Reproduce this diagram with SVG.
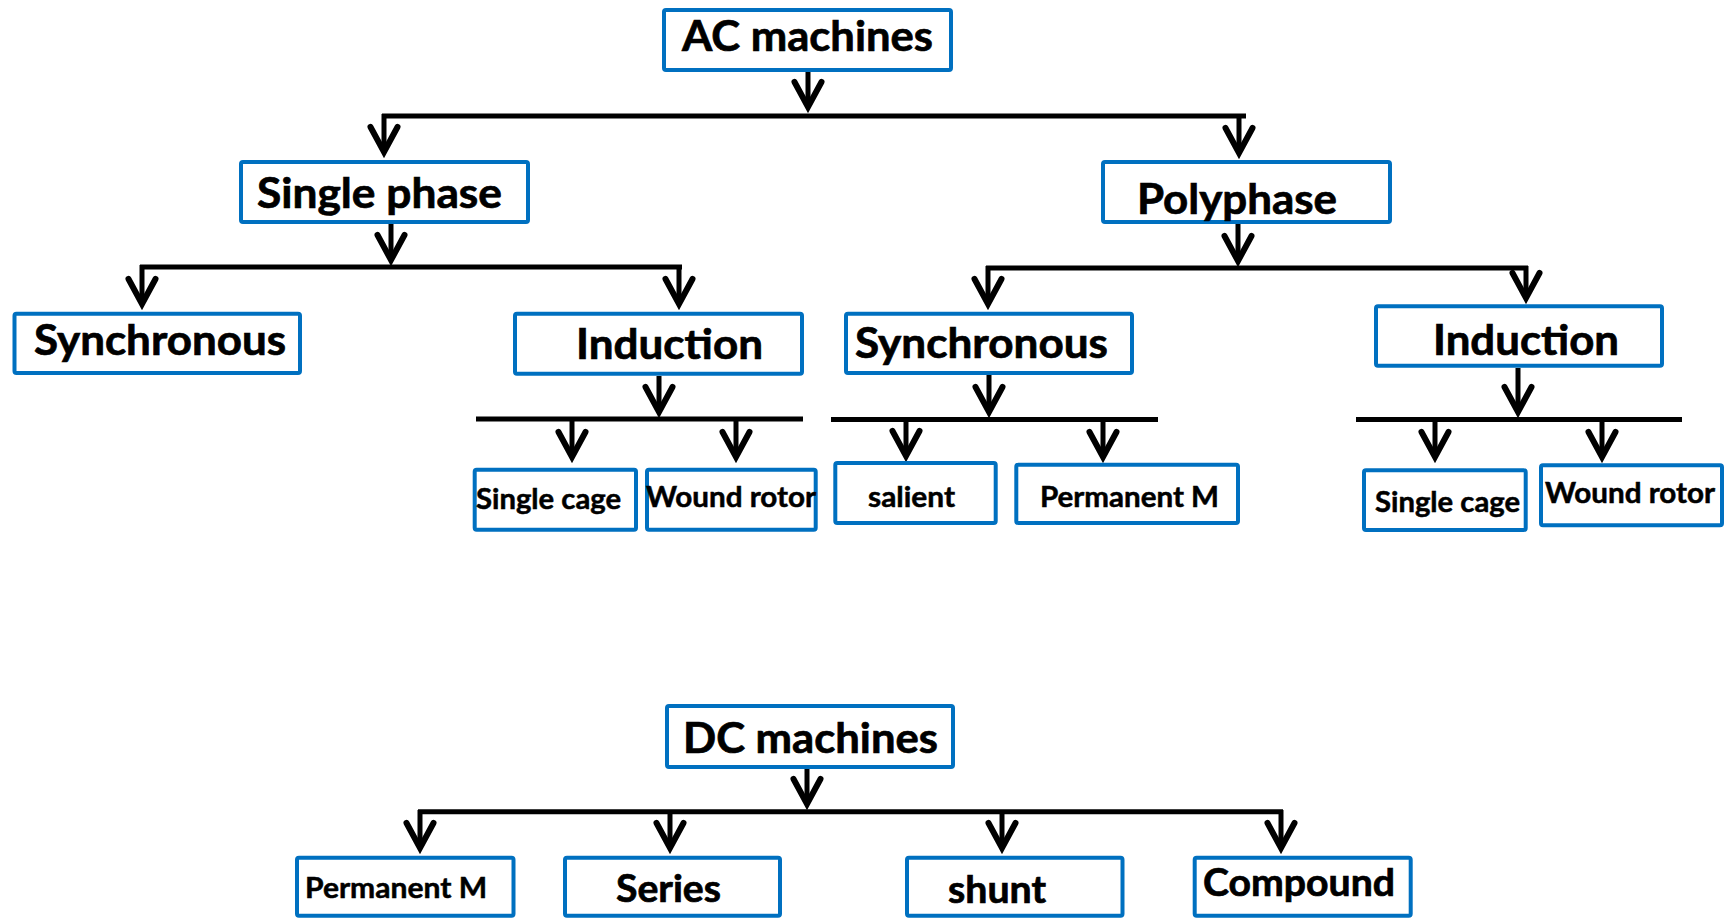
<svg xmlns="http://www.w3.org/2000/svg" width="1727" height="918" viewBox="0 0 1727 918">
<style>
.box{fill:#fff;stroke:#0070C0;stroke-width:4}
.t{font-family:Lato,"Open Sans","Liberation Sans",sans-serif;font-weight:700;fill:#000;stroke:#000;stroke-width:0.7px}
.l{font-size:42px}
.m{font-size:38px}
.s{font-size:28px;stroke-width:0.5px}
.c{stroke:#000;stroke-width:5;fill:none;stroke-linecap:butt}
.a{stroke:#000;stroke-width:5;fill:none;marker-end:url(#arr)}
</style>
<defs>
<marker id="arr" markerUnits="userSpaceOnUse" viewBox="-40 -25 50 50" markerWidth="50" markerHeight="50" refX="0" refY="0" orient="auto">
<path d="M -25 -13.5 L 0 0 L -25 13.5" fill="none" stroke="#000" stroke-width="6" stroke-linecap="round" stroke-linejoin="miter"/>
</marker>
</defs>
<rect width="1727" height="918" fill="#fff"/>
<g id="connectors">
<path class="a" d="M808 72 V107"/>
<path class="c" d="M382 116 H1246"/>
<path class="a" d="M384 114 V152"/>
<path class="a" d="M1239 114 V153"/>
<path class="a" d="M391 224 V260"/>
<path class="c" d="M140 267 H682"/>
<path class="a" d="M142 265 V304"/>
<path class="a" d="M679 265 V304"/>
<path class="a" d="M1238 224 V261"/>
<path class="c" d="M986 268 H1528"/>
<path class="a" d="M988 266 V304"/>
<path class="a" d="M1526 266 V298"/>
<path class="a" d="M659 376 V412"/>
<path class="c" d="M476 419 H803"/>
<path class="a" d="M572 421 V457"/>
<path class="a" d="M736 421 V457"/>
<path class="a" d="M989 375 V412"/>
<path class="c" d="M831 419.5 H1158"/>
<path class="a" d="M906 421 V456"/>
<path class="a" d="M1103 421 V457"/>
<path class="a" d="M1518 368 V412"/>
<path class="c" d="M1356 419.5 H1682"/>
<path class="a" d="M1435 421 V457"/>
<path class="a" d="M1602 421 V457"/>
<path class="a" d="M807 768 V804"/>
<path class="c" d="M418 811.7 H1283"/>
<path class="a" d="M420 810 V848"/>
<path class="a" d="M670 810 V848"/>
<path class="a" d="M1002 810 V848"/>
<path class="a" d="M1281 810 V848"/>
</g>
<g id="ac-machines"><rect class="box" x="664" y="10" width="287" height="60" rx="2"/><text class="t l" x="682" y="51" textLength="251" lengthAdjust="spacingAndGlyphs">AC machines</text></g>
<g id="single-phase"><rect class="box" x="241" y="162" width="287" height="60" rx="2"/><text class="t l" x="257" y="208" textLength="245" lengthAdjust="spacingAndGlyphs">Single phase</text></g>
<g id="polyphase"><rect class="box" x="1103" y="162" width="287" height="60" rx="2"/><text class="t l" x="1137" y="214" textLength="200" lengthAdjust="spacingAndGlyphs">Polyphase</text></g>
<g id="sp-synchronous"><rect class="box" x="14.5" y="313.7" width="285.5" height="59.3" rx="2"/><text class="t l" x="34" y="355" textLength="252" lengthAdjust="spacingAndGlyphs">Synchronous</text></g>
<g id="sp-induction"><rect class="box" x="515" y="313.7" width="287" height="60" rx="2"/><text class="t l" x="576" y="359" textLength="187" lengthAdjust="spacingAndGlyphs">Induction</text></g>
<g id="pp-synchronous"><rect class="box" x="846" y="313.7" width="286" height="59.3" rx="2"/><text class="t l" x="855" y="358" textLength="253" lengthAdjust="spacingAndGlyphs">Synchronous</text></g>
<g id="pp-induction"><rect class="box" x="1376" y="306.3" width="286" height="59.4" rx="2"/><text class="t l" x="1433" y="355" textLength="186" lengthAdjust="spacingAndGlyphs">Induction</text></g>
<g id="sp-single-cage"><rect class="box" x="474.7" y="469.7" width="161.3" height="60" rx="2"/><text class="t s" x="476" y="509" textLength="145" lengthAdjust="spacingAndGlyphs">Single cage</text></g>
<g id="sp-wound-rotor"><rect class="box" x="647" y="469.7" width="168.7" height="60" rx="2"/><text class="t s" x="646" y="507" textLength="170" lengthAdjust="spacingAndGlyphs">Wound rotor</text></g>
<g id="salient"><rect class="box" x="835.3" y="463" width="160.4" height="60" rx="2"/><text class="t s" x="868" y="507" textLength="87" lengthAdjust="spacingAndGlyphs">salient</text></g>
<g id="pp-permanent-m"><rect class="box" x="1016.3" y="464.7" width="221.7" height="58.3" rx="2"/><text class="t s" x="1040" y="507" textLength="179" lengthAdjust="spacingAndGlyphs">Permanent M</text></g>
<g id="pp-single-cage"><rect class="box" x="1364" y="470.3" width="161.7" height="59.7" rx="2"/><text class="t s" x="1375" y="512" textLength="145" lengthAdjust="spacingAndGlyphs">Single cage</text></g>
<g id="pp-wound-rotor"><rect class="box" x="1541" y="465.3" width="181" height="60" rx="2"/><text class="t s" x="1545" y="503" textLength="170" lengthAdjust="spacingAndGlyphs">Wound rotor</text></g>
<g id="dc-machines"><rect class="box" x="667" y="706" width="286" height="61" rx="2"/><text class="t l" x="683" y="753" textLength="255" lengthAdjust="spacingAndGlyphs">DC machines</text></g>
<g id="dc-permanent-m"><rect class="box" x="297" y="857.8" width="216.5" height="58" rx="2"/><text class="t s" x="305" y="898" textLength="182" lengthAdjust="spacingAndGlyphs">Permanent M</text></g>
<g id="series"><rect class="box" x="565" y="857.8" width="215" height="58" rx="2"/><text class="t m" x="616" y="902" textLength="105" lengthAdjust="spacingAndGlyphs">Series</text></g>
<g id="shunt"><rect class="box" x="907" y="857.8" width="215.5" height="58" rx="2"/><text class="t m" x="948" y="903" textLength="98" lengthAdjust="spacingAndGlyphs">shunt</text></g>
<g id="compound"><rect class="box" x="1194.7" y="857.8" width="216" height="58" rx="2"/><text class="t m" x="1203" y="896" textLength="192" lengthAdjust="spacingAndGlyphs">Compound</text></g>
</svg>
